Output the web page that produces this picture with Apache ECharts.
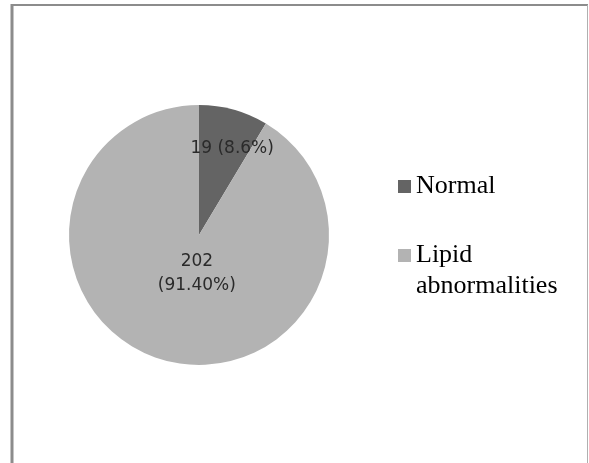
<!DOCTYPE html>
<html>
<head>
<meta charset="utf-8">
<script src="https://cdn.jsdelivr.net/npm/echarts@6/dist/echarts.min.js"></script>
<style>
  html, body { margin: 0; padding: 0; background: #ffffff; }
  #chart { width: 589px; height: 463px; }
</style>
</head>
<body>
<div id="chart"></div>
<script>
// Lipid profile status of the study group
const categories = ['Normal', 'Lipid abnormalities'];
const counts = [19, 202];
const percentText = ['8.6%', '91.40%'];
const colors = ['#646464', '#b3b3b3'];

const chart = echarts.init(document.getElementById('chart'), null, { renderer: 'canvas' });

const pieData = categories.map((name, i) => ({
  name: name,
  value: counts[i],
  itemStyle: { color: colors[i] },
  label: {
    offset: i === 0 ? [15, -21] : [16, -27],
    formatter: i === 0
      ? counts[i] + ' (' + percentText[i] + ')'
      : counts[i] + '\n(' + percentText[i] + ')'
  }
}));

chart.setOption({
  backgroundColor: '#ffffff',
  animation: false,
  graphic: [
    // frame: top and left edges darker, right edge lighter
    { type: 'line', shape: { x1: 12, y1: 5, x2: 588, y2: 5 },
      style: { stroke: '#8c8c8c', lineWidth: 2 } },
    { type: 'line', shape: { x1: 12, y1: 4, x2: 12, y2: 463 },
      style: { stroke: '#8c8c8c', lineWidth: 3 } },
    { type: 'line', shape: { x1: 587.5, y1: 5, x2: 587.5, y2: 463 },
      style: { stroke: '#b0b0b0', lineWidth: 1 } }
  ],
  legend: {
    orient: 'vertical',
    left: 398,
    top: 171,
    padding: 0,
    itemWidth: 13,
    itemHeight: 13,
    itemGap: 7,
    icon: 'rect',
    selectedMode: false,
    data: categories,
    // wrapped names keep the marker beside their first line
    formatter: name => name.indexOf(' ') >= 0 ? '\n' + name.replace(' ', '\n') : name,
    textStyle: {
      fontFamily: '"Liberation Serif", "Times New Roman", serif',
      fontSize: 26,
      lineHeight: 31,
      color: '#000000'
    }
  },
  series: [{
    type: 'pie',
    center: [199, 235],
    radius: [0, 130],
    startAngle: 90,
    clockwise: true,
    silent: true,
    label: {
      show: true,
      position: 'inside',
      fontFamily: '"DejaVu Sans", Verdana, sans-serif',
      fontSize: 17,
      lineHeight: 24,
      color: '#2a2a2a',
      align: 'center'
    },
    labelLine: { show: false },
    itemStyle: { borderWidth: 0 },
    data: pieData
  }]
});
</script>
</body>
</html>
